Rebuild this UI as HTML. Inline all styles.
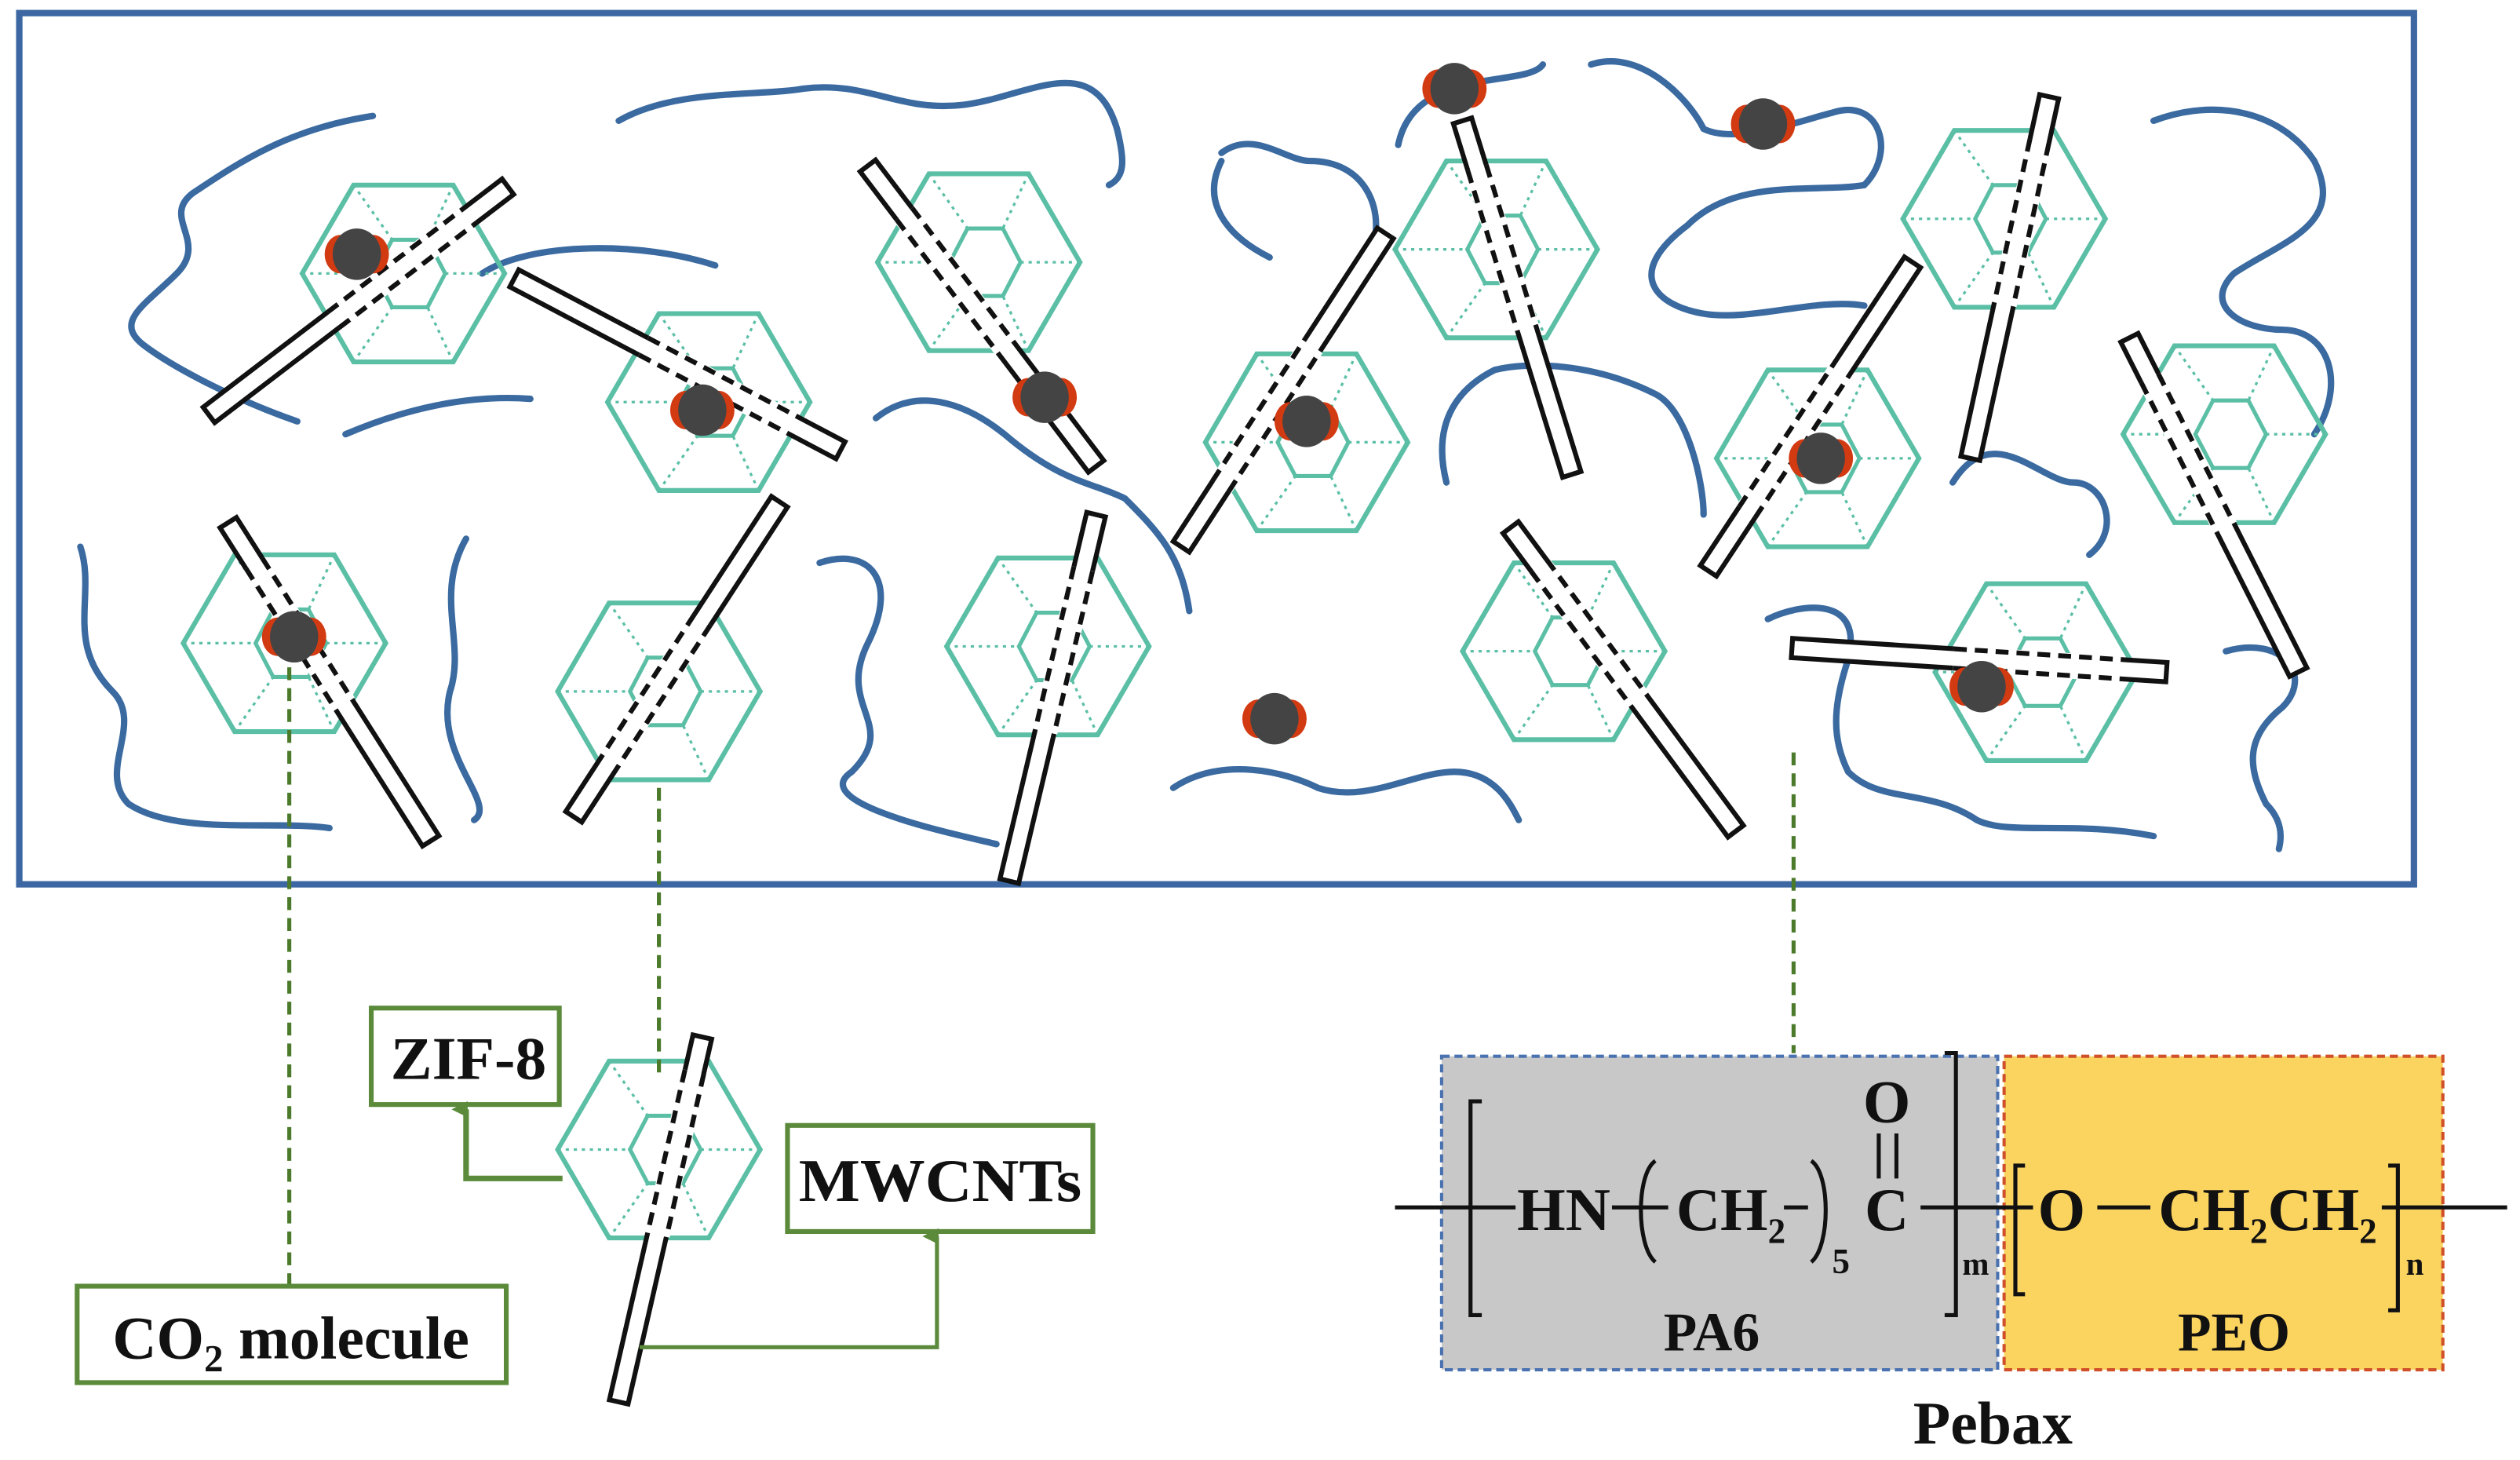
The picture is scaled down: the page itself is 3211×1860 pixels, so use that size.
<!DOCTYPE html>
<html><head><meta charset="utf-8"><style>
html,body{margin:0;padding:0;background:#fff;}
svg{display:block;}
text{font-family:"Liberation Serif",serif;font-weight:bold;fill:#111;}
</style></head><body>
<svg id="s" width="3211" height="1860" viewBox="0 0 1568 908" xmlns="http://www.w3.org/2000/svg">
<defs>
<g id="hex">
<polygon points="-63,0 -31,-55 31,-55 63,0 31,55 -31,55" fill="none" stroke="#5bbfa6" stroke-width="3"/>
<polygon points="-18,0 -7,-21 15,-21 26,0 15,21 -7,21" fill="none" stroke="#5bbfa6" stroke-width="2.5"/>
<g stroke="#5bbfa6" stroke-width="1.6" stroke-dasharray="2 3">
<line x1="-63" y1="0" x2="-18" y2="0"/><line x1="63" y1="0" x2="26" y2="0"/>
<line x1="-31" y1="-55" x2="-7" y2="-21"/><line x1="31" y1="-55" x2="15" y2="-21"/>
<line x1="-31" y1="55" x2="-7" y2="21"/><line x1="31" y1="55" x2="15" y2="21"/>
</g></g>
<g id="co2">
<ellipse cx="-10" cy="0" rx="10" ry="12" fill="#d23a12"/>
<ellipse cx="10" cy="0" rx="10" ry="12" fill="#d23a12"/>
<ellipse cx="0" cy="0" rx="15" ry="16" fill="#444"/>
</g>
<marker id="ar" markerWidth="10" markerHeight="10" refX="5" refY="9" orient="auto" markerUnits="userSpaceOnUse"><path d="M0,10 L5,0 L10,10 z" fill="#5a8a3a"/></marker>
</defs>
<rect x="12" y="8" width="1490" height="542" fill="none" stroke="#3c67a2" stroke-width="4"/>
<g fill="none" stroke="#3a6aa0" stroke-width="4" stroke-linecap="round">
<path d="M 232,72 C 180,80 150,100 120,120 C 100,135 130,150 110,170 C 90,190 70,200 90,215 C 110,230 150,250 185,262"/>
<path d="M 300,170 C 330,150 400,150 445,165"/>
<path d="M 215,270 C 250,255 290,245 330,248"/>
<path d="M 385,75 C 420,55 470,60 500,55 C 540,50 560,70 600,65 C 640,60 680,30 695,80 C 700,100 700,110 690,115"/>
<path d="M 545,260 C 570,240 600,250 625,270 C 660,300 680,300 700,310 C 720,330 735,345 740,380"/>
<path d="M 760,95 C 780,80 800,100 815,100 C 850,100 860,130 855,150"/>
<path d="M 760,100 C 745,130 770,150 790,160"/>
<path d="M 870,90 C 880,40 950,55 960,40"/>
<path d="M 990,40 C 1020,30 1050,60 1060,80 C 1080,90 1120,75 1140,70 C 1170,60 1180,95 1160,115 C 1130,120 1080,110 1050,140 C 1010,170 1030,190 1060,195 C 1090,200 1130,185 1160,190"/>
<path d="M 900,300 C 890,260 910,240 930,230 C 950,225 990,225 1030,245 C 1050,255 1060,300 1060,320"/>
<path d="M 1215,300 C 1240,260 1270,300 1290,300 C 1310,300 1320,330 1300,345"/>
<path d="M 1340,75 C 1380,60 1420,70 1440,100 C 1460,140 1420,150 1390,170 C 1370,190 1395,205 1420,205 C 1450,205 1460,240 1440,270"/>
<path d="M 50,340 C 60,370 40,400 70,430 C 90,450 60,480 80,500 C 110,520 170,510 205,515"/>
<path d="M 290,335 C 270,370 290,400 280,430 C 270,470 310,500 295,510"/>
<path d="M 510,350 C 540,340 560,360 540,400 C 520,440 560,450 530,480 C 500,500 600,520 620,525"/>
<path d="M 730,490 C 760,470 800,480 820,490 C 850,500 880,480 905,480 C 930,480 940,500 945,510"/>
<path d="M 1100,385 C 1120,375 1160,370 1150,410 C 1140,440 1140,460 1150,480 C 1170,500 1200,490 1230,510 C 1250,520 1290,510 1340,520"/>
<path d="M 1385,405 C 1420,395 1440,420 1420,440 C 1395,460 1400,480 1410,500 C 1420,510 1420,520 1418,528"/>
</g>
<g id="hexes"></g>
<g id="tubes"></g>
<g id="mols"></g>
<g stroke="#4a7a2a" stroke-width="2.5" stroke-dasharray="8 5" fill="none">
<line x1="180" y1="415" x2="180" y2="800"/>
<line x1="410" y1="490" x2="410" y2="672"/>
<line x1="1116" y1="468" x2="1116" y2="655"/>
</g>
<g fill="#fff" stroke="#5a8a3a" stroke-width="3">
<rect x="231" y="627" width="117" height="60"/>
<rect x="490" y="700" width="190" height="66"/>
<rect x="48" y="800" width="267" height="60"/>
</g>
<g fill="none" stroke="#5a8a3a" stroke-width="3.5">
<polyline points="350,733 290,733 290,690" marker-end="url(#ar)"/>
<polyline points="398,838 583,838 583,769" stroke-width="2.5" marker-end="url(#ar)"/>
</g>
<text x="243" y="671" font-size="38" textLength="97" lengthAdjust="spacingAndGlyphs">ZIF-8</text>
<text x="497" y="747" font-size="38" textLength="176" lengthAdjust="spacingAndGlyphs">MWCNTs</text>
<text x="70" y="845" font-size="38">CO<tspan font-size="24" dy="8">2</tspan><tspan dy="-8"> molecule</tspan></text>
<rect x="897" y="657" width="346" height="195" fill="#c8c8c8" stroke="#4a72b0" stroke-width="2" stroke-dasharray="5 3"/>
<rect x="1247" y="657" width="273" height="195" fill="#fbd35f" stroke="#d0502a" stroke-width="2" stroke-dasharray="5 3"/>
<g stroke="#111" stroke-width="2.5" fill="none">
<line x1="868" y1="751" x2="943" y2="751"/>
<line x1="1003" y1="751" x2="1038" y2="751"/>
<line x1="1110" y1="751" x2="1125" y2="751"/>
<line x1="1195" y1="751" x2="1265" y2="751"/>
<line x1="1305" y1="751" x2="1338" y2="751"/>
<line x1="1482" y1="751" x2="1560" y2="751"/>
<path d="M 922,685 L 915,685 L 915,818 L 922,818"/>
<path d="M 1210,655 L 1217,655 L 1217,818 L 1210,818"/>
<path d="M 1030,722 C 1018,730 1018,775 1030,785"/>
<path d="M 1127,722 C 1139,730 1139,775 1127,785"/>
<path d="M 1260,725 L 1254,725 L 1254,805 L 1260,805"/>
<path d="M 1486,725 L 1492,725 L 1492,815 L 1486,815"/>
<line x1="1169" y1="705" x2="1169" y2="733"/>
<line x1="1180" y1="705" x2="1180" y2="733"/>
</g>
<text x="944" y="765" font-size="38" textLength="58" lengthAdjust="spacingAndGlyphs">HN</text>
<text x="1043" y="765" font-size="38">CH<tspan font-size="22" dy="8">2</tspan></text>
<text x="1140" y="792" font-size="22">5</text>
<text x="1174" y="765" font-size="38" text-anchor="middle">C</text>
<text x="1174" y="698" font-size="38" text-anchor="middle">O</text>
<text x="1221" y="793" font-size="20">m</text>
<text x="1268" y="765" font-size="38">O</text>
<text x="1343" y="765" font-size="38">CH<tspan font-size="22" dy="8">2</tspan><tspan dy="-8">CH</tspan><tspan font-size="22" dy="8">2</tspan></text>
<text x="1497" y="793" font-size="20">n</text>
<text x="1065" y="840" font-size="34" text-anchor="middle">PA6</text>
<text x="1390" y="840" font-size="34" text-anchor="middle">PEO</text>
<text x="1240" y="898" font-size="38" text-anchor="middle">Pebax</text>
</svg>
<script>
var NS="http://www.w3.org/2000/svg";
function el(p,n,a){var e=document.createElementNS(NS,n);for(var k in a)e.setAttribute(k,a[k]);p.appendChild(e);return e;}
var H=[[251,170],[441,250],[609,163],[931,155],[1247,136],[813,275],[1131,285],[1384,270],[177,400],[410,430],[652,402],[973,405],[1267,418],[410,715]];
var hg=document.getElementById('hexes');
H.forEach(function(h){el(hg,'use',{href:'#hex',transform:'translate('+h[0]+','+h[1]+')'});});
var T=[[130,258,316,116,0],[320,173,523,280,1],[540,103,682,290,2],[910,75,978,295,3],[1275,60,1226,285,4],[735,340,862,145,5],[1063,355,1190,163,6],[1325,210,1430,418,7],[142,325,268,523,8],[485,312,357,508,9],[682,320,628,548,10],[940,328,1080,517,11],[1115,403,1348,418,12],[437,645,385,872,13]];
var tg=document.getElementById('tubes');
T.forEach(function(t){
 var x1=t[0],y1=t[1],x2=t[2],y2=t[3],c=H[t[4]];
 var dx=x2-x1,dy=y2-y1,L=Math.hypot(dx,dy),ux=dx/L,uy=dy/L,nx=-uy,ny=ux,w=6;
 function P(s,o){return (x1+ux*s+nx*o).toFixed(1)+','+(y1+uy*s+ny*o).toFixed(1);}
 el(tg,'polygon',{points:[P(0,-w),P(L,-w),P(L,w),P(0,w)].join(' '),fill:'#fff',stroke:'#111','stroke-width':3});
 var tp=(c[0]-x1)*ux+(c[1]-y1)*uy,a=Math.max(3,tp-52),b=Math.min(L-3,tp+52);
 if(b>a){
  el(tg,'polygon',{points:[P(a,-w-2),P(b,-w-2),P(b,w+2),P(a,w+2)].join(' '),fill:'#fff'});
  [-w,w].forEach(function(o){
   var p1=P(a,o).split(','),p2=P(b,o).split(',');
   el(tg,'line',{x1:p1[0],y1:p1[1],x2:p2[0],y2:p2[1],stroke:'#111','stroke-width':3,'stroke-dasharray':'8 5'});
  });
 }
});
var M=[[222,158],[437,255],[650,247],[905,55],[1097,77],[813,262],[1133,285],[183,396],[793,447],[1233,427]];
var mg=document.getElementById('mols');
M.forEach(function(m){el(mg,'use',{href:'#co2',transform:'translate('+m[0]+','+m[1]+')'});});
</script>
</body></html>
